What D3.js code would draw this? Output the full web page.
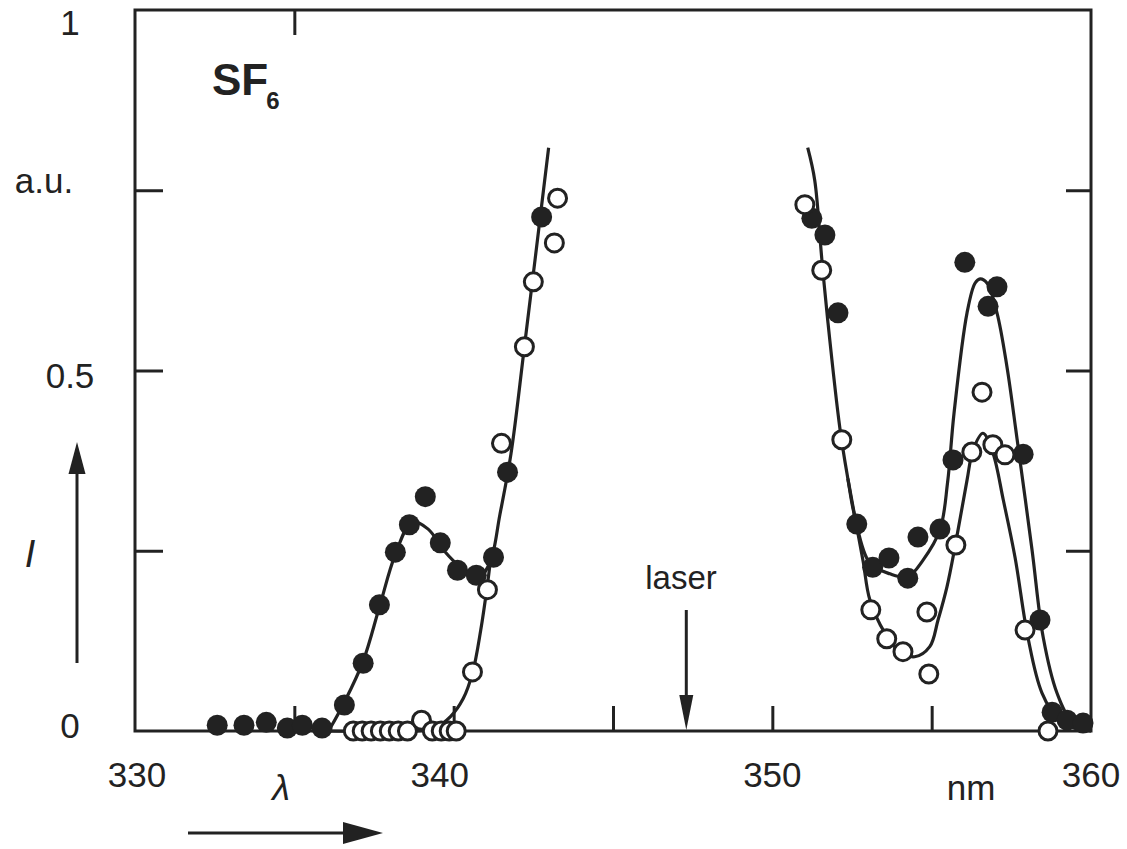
<!DOCTYPE html>
<html><head><meta charset="utf-8">
<script src="https://cdn.jsdelivr.net/npm/d3@7"></script>
<style>
body{margin:0;background:#fff}
svg{display:block}
text{font-family:"Liberation Sans",Arial,sans-serif;fill:#222}
</style>
</head><body>
<svg id="c" width="1127" height="849"></svg>
<script>
// ---------- data ----------
const xTickValues = [335, 340, 345, 350, 355];
const xLabelValues = [330, 340, 350, 360];
const yTickValues = [0.25, 0.5, 0.75];
const yLabelValues = [0, 0.5, 1];
const topTickValues = [335];
const laserWavelength = 347.3;

// measured points [wavelength nm, intensity a.u.]
const filledLeft = [[332.58,0.008],[333.42,0.008],[334.12,0.012],[334.78,0.004],[335.25,0.008],[335.87,0.004],
  [336.57,0.036],[337.16,0.094],[337.67,0.175],[338.17,0.248],[338.61,0.286],[339.11,0.325],[339.58,0.261],
  [340.12,0.223],[340.71,0.216],[341.25,0.241],[341.69,0.359],[342.76,0.713]];
const filledRight = [[351.24,0.711],[351.65,0.688],[352.06,0.580],[352.65,0.287],[353.15,0.227],[353.66,0.240],
  [354.25,0.212],[354.57,0.269],[355.26,0.280],[355.67,0.376],[356.04,0.650],[356.77,0.589],[357.05,0.616],
  [357.87,0.384],[358.40,0.154],[358.78,0.026],[359.25,0.015],[359.75,0.011]];
const openLeft = [[336.85,0],[337.13,0],[337.41,0],[337.70,0],[337.98,0],[338.26,0],[338.55,0],[338.99,0.015],
  [339.33,0],[339.61,0],[339.86,0],[340.08,0],[340.59,0.082],[341.06,0.196],[341.50,0.399],[342.22,0.533],
  [342.50,0.623],[343.16,0.677],[343.26,0.739]];
const openRight = [[351.02,0.730],[351.55,0.639],[352.18,0.404],[353.09,0.168],[353.59,0.128],[354.10,0.110],
  [354.85,0.165],[354.91,0.079],[355.76,0.258],[356.26,0.387],[356.58,0.470],[356.92,0.397],[357.30,0.383],
  [357.93,0.140],[358.65,0.0]];

// fitted curves
const fitFilledLeft = [[336.1,0.002],[336.57,0.04],[337.16,0.097],[337.67,0.172],[338.17,0.245],[338.7,0.29],
  [339.2,0.28],[339.7,0.25],[340.2,0.228],[340.8,0.214],[341.15,0.235],[341.45,0.3],[341.8,0.385],
  [342.22,0.533],[342.98,0.809]];
const fitOpenLeft = [[335.9,0],[338.8,0],[339.4,0.004],[339.9,0.02],[340.3,0.045],[340.6,0.082],[340.85,0.14],
  [341.05,0.2],[341.15,0.235]];
const fitFilledRight = [[351.11,0.809],[351.33,0.764],[351.55,0.656],[351.74,0.569],[352.12,0.42],[352.37,0.35],
  [352.59,0.297],[353.06,0.233],[353.69,0.218],[354.25,0.214],[354.73,0.237],[355.26,0.279],[355.5,0.345],
  [355.7,0.44],[356.11,0.58],[356.36,0.621],[356.52,0.627],[356.74,0.621],[357.05,0.58],[357.36,0.506],
  [357.68,0.405],[358.15,0.251],[358.5,0.13],[358.93,0.053],[359.4,0.013],[360,0]];
const fitOpenRight = [[352.37,0.35],[352.59,0.297],[352.85,0.235],[353.06,0.182],[353.53,0.136],[354.0,0.11],
  [354.47,0.103],[354.94,0.117],[355.2,0.154],[355.48,0.2],[355.73,0.255],[356.11,0.348],[356.3,0.39],
  [356.61,0.413],[356.92,0.386],[357.25,0.32],[357.62,0.24],[358.02,0.13],[358.46,0.053],[359.0,0.015],
  [359.6,0.002],[360,0]];

// ---------- drawing ----------
const ink = "#222";
const L = 135, R = 1091, T = 10, B = 731;
const svg = d3.select("#c");
svg.append("rect").attr("width",1127).attr("height",849).attr("fill","#fff");

const x = d3.scaleLinear().domain([330,360]).range([L,R]);
const y = d3.scaleLinear().domain([0,1]).range([B,T]);

function styleAxis(g){
  g.select(".domain").remove();
  g.selectAll(".tick line").attr("stroke",ink).attr("stroke-width",3);
  g.selectAll("text").remove();
}
svg.append("g").attr("transform",`translate(0,${B})`)
  .call(d3.axisBottom(x).tickValues(xTickValues).tickSize(-25)).call(styleAxis);
svg.append("g").attr("transform",`translate(0,${T})`)
  .call(d3.axisTop(x).tickValues(topTickValues).tickSize(-25)).call(styleAxis);
svg.append("g").attr("transform",`translate(${L},0)`)
  .call(d3.axisLeft(y).tickValues(yTickValues).tickSize(-28)).call(styleAxis);
svg.append("g").attr("transform",`translate(${R},0)`)
  .call(d3.axisRight(y).tickValues(yTickValues).tickSize(-25)).call(styleAxis);

svg.append("rect").attr("x",L).attr("y",T).attr("width",R-L).attr("height",B-T)
  .attr("fill","none").attr("stroke",ink).attr("stroke-width",3);

// tick labels
const xNudge = v => v===340 ? -14 : (v===330 ? 2 : 0);
svg.append("g").selectAll("text").data(xLabelValues).join("text")
  .attr("x", d => x(d)+xNudge(d)).attr("y", 787)
  .attr("text-anchor","middle").attr("font-size",35).text(d => d);
const yNudge = v => v===1 ? 12 : (v===0 ? -6 : 5);
svg.append("g").selectAll("text").data(yLabelValues).join("text")
  .attr("x", 70).attr("y", d => y(d)+yNudge(d)).attr("dy","0.36em")
  .attr("text-anchor","middle").attr("font-size",35).text(d => d);

// fitted curves
const line = d3.line().x(d=>x(d[0])).y(d=>y(d[1])).curve(d3.curveCatmullRom.alpha(0.5));
[fitFilledLeft, fitOpenLeft, fitFilledRight, fitOpenRight].forEach(c=>{
  svg.append("path").datum(c).attr("d",line).attr("fill","none")
    .attr("stroke",ink).attr("stroke-width",3.2).attr("stroke-linejoin","round");
});

// markers
svg.append("g").selectAll("circle").data(filledLeft.concat(filledRight)).join("circle")
  .attr("cx",d=>x(d[0])).attr("cy",d=>y(d[1])).attr("r",10.5).attr("fill",ink);
svg.append("g").selectAll("circle").data(openLeft.concat(openRight)).join("circle")
  .attr("cx",d=>x(d[0])).attr("cy",d=>y(d[1])).attr("r",9).attr("fill","#fff")
  .attr("stroke",ink).attr("stroke-width",3);

// annotations
const sf = svg.append("text").attr("x",212).attr("y",95).attr("font-size",44).attr("font-weight","bold");
sf.append("tspan").text("SF");
sf.append("tspan").attr("font-size",24).attr("dy",14).attr("dx",-2).text("6");

svg.append("text").attr("x",44).attr("y",193).attr("text-anchor","middle").attr("font-size",35).text("a.u.");
svg.append("text").attr("x",30).attr("y",567).attr("text-anchor","middle").attr("font-size",38)
  .attr("font-style","italic").text("I");
svg.append("text").attr("x",281).attr("y",800).attr("text-anchor","middle").attr("font-size",36)
  .attr("font-style","italic").attr("font-family","'Liberation Serif',serif").text("λ");
svg.append("text").attr("x",971).attr("y",800).attr("text-anchor","middle").attr("font-size",35).text("nm");
svg.append("text").attr("x",681).attr("y",589).attr("text-anchor","middle").attr("font-size",33).text("laser");

// arrows
function arrow(x1,y1,x2,y2,len,half){
  const a = Math.atan2(y2-y1,x2-x1);
  const bx = x2 - len*Math.cos(a), by = y2 - len*Math.sin(a);
  svg.append("line").attr("x1",x1).attr("y1",y1).attr("x2",bx).attr("y2",by)
    .attr("stroke",ink).attr("stroke-width",3);
  const px = -Math.sin(a)*half, py = Math.cos(a)*half;
  svg.append("path").attr("d",`M${x2},${y2}L${bx+px},${by+py}L${bx-px},${by-py}Z`).attr("fill",ink);
}
arrow(77,663,77,442,32,8.5);
arrow(188,833,383,833,40,11);
arrow(x(laserWavelength),610,x(laserWavelength),730,35,7);
</script>
</body></html>
